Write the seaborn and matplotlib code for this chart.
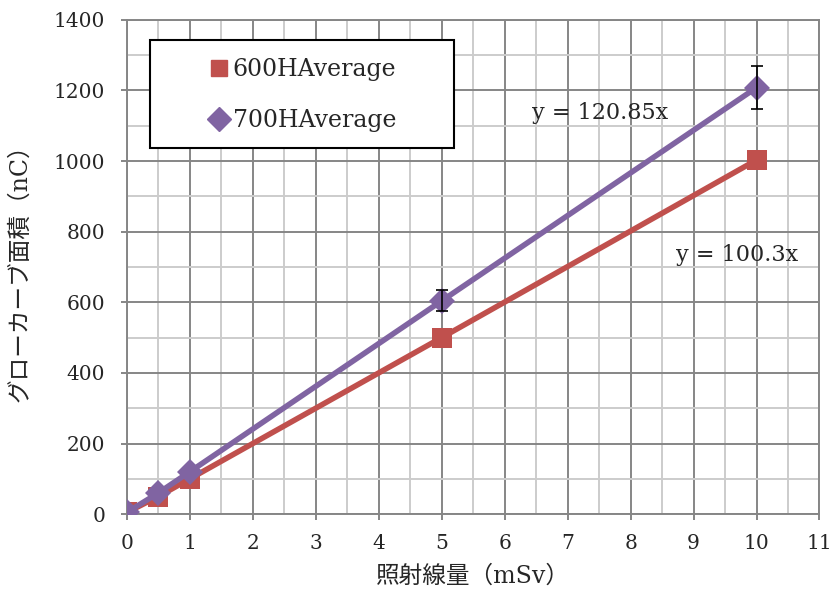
import matplotlib
matplotlib.use("Agg")
import matplotlib.pyplot as plt
from matplotlib.lines import Line2D
from matplotlib.patches import Rectangle
from matplotlib.ticker import MultipleLocator
import seaborn as sns
import pandas as pd

# data
dose = [0, 0.5, 1, 5, 10]
area_600 = [5, 50, 100, 500, 1003]
area_700 = [5, 60, 120, 604, 1208]

# error bars only visible on the 700H series at 5 and 10 mSv
err_dose = [5, 10]
err_area = [604, 1208]
err_size = [30, 60]

labels = ["600HAverage", "700HAverage"]
colors = ["#C0504D", "#8064A2"]

sns.set_style("white")
plt.rcParams["font.family"] = ["DejaVu Serif", "Noto Sans CJK JP"]

df = pd.DataFrame({
    "dose": dose * 2,
    "area": area_600 + area_700,
    "series": [labels[0]] * len(dose) + [labels[1]] * len(dose),
})

fig, ax = plt.subplots(figsize=(8.34, 6), dpi=100)
fig.subplots_adjust(left=0.152, right=0.9826, top=0.967, bottom=0.143)

ax.set_xlim(0, 11)
ax.set_ylim(0, 1400)
ax.xaxis.set_major_locator(MultipleLocator(1))
ax.xaxis.set_minor_locator(MultipleLocator(0.5))
ax.yaxis.set_major_locator(MultipleLocator(200))
ax.yaxis.set_minor_locator(MultipleLocator(100))
ax.grid(which="major", color="#868686", lw=1.4)
ax.grid(which="minor", color="#cccccc", lw=1.4)
ax.set_axisbelow(True)
for s in ax.spines.values():
    s.set_color("#868686")
    s.set_linewidth(1.4)
ax.tick_params(axis="both", which="major", direction="out", length=4.5, width=1.4,
               color="#868686", labelsize=14.5)
ax.tick_params(axis="y", pad=11)
ax.tick_params(axis="x", pad=10)
ax.tick_params(which="minor", length=0)
ax.tick_params(left=True, bottom=True)

sns.lineplot(data=df, x="dose", y="area", hue="series", palette=colors,
             style="series", markers=["s", "D"], dashes=False, markersize=14.5,
             markeredgewidth=0, linewidth=4, legend=False, ax=ax, zorder=3)
ax.lines[1].set_markersize(13)

ax.errorbar(err_dose, err_area, yerr=err_size, fmt="none", ecolor="black",
            elinewidth=1.2, capsize=4.5, capthick=1.2, zorder=4)

ax.text(6.43, 1136, "y = 120.85x", fontsize=16, va="center")
ax.text(8.72, 734, "y = 100.3x", fontsize=16, va="center")

# legend box
ax.add_patch(Rectangle((0.033, 0.741), 0.44, 0.219, transform=ax.transAxes,
                       facecolor="white", edgecolor="black", lw=1.5, zorder=5))
handles = [Line2D([], [], color=colors[0], marker="s", ls="none", markersize=12.2),
           Line2D([], [], color=colors[1], marker="D", ls="none", markersize=12)]
leg = ax.legend(handles, labels, loc="center left", bbox_to_anchor=(0.1166, 0.848),
                fontsize=17, frameon=False, handletextpad=0.06,
                labelspacing=1.2, borderpad=0, handlelength=1.0,
                borderaxespad=0)
leg.set_zorder(6)

ax.set_xlabel("照射線量（mSv）", fontsize=17, labelpad=8)
ax.set_ylabel("グローカーブ面積（nC）", fontsize=17, labelpad=16)

fig.savefig("out.png", dpi=100)
